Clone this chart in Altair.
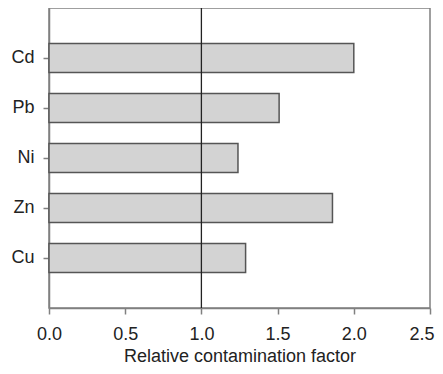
import altair as alt
import pandas as pd

elements = ["Cd", "Pb", "Ni", "Zn", "Cu"]
factors = [2.00, 1.51, 1.24, 1.86, 1.29]
x_ticks = [0.0, 0.5, 1.0, 1.5, 2.0, 2.5]
reference_value = [1.0]

df = pd.DataFrame({"element": elements, "factor": factors})
ref = pd.DataFrame({"ref": reference_value})

FONT = "Liberation Sans"

bars = alt.Chart(df).mark_bar(
    fill="#d3d3d3", stroke="#555555", strokeWidth=1.5
).encode(
    x=alt.X(
        "factor:Q",
        scale=alt.Scale(domain=[0, 2.5], nice=False, zero=True),
        axis=alt.Axis(
            values=x_ticks, format=".1f", title="Relative contamination factor",
            grid=False, tickSize=6, labelPadding=11, titlePadding=4,
            labelFlush=False,
            labelAlign={"condition": {"test": "datum.value >= 2.5", "value": "right"}, "value": "center"},
            labelOffset={"condition": {"test": "datum.value >= 2.5", "value": 4}, "value": 0},
        ),
    ),
    y=alt.Y(
        "element:N",
        sort=elements,
        scale=alt.Scale(paddingInner=0.42, paddingOuter=0.71),
        axis=alt.Axis(title=None, grid=False, tickSize=6, labelPadding=9),
    ),
)

rule = alt.Chart(ref).mark_rule(color="#222222", strokeWidth=1.3).encode(
    x="ref:Q"
)

chart = (
    alt.layer(bars, rule)
    .properties(
        width=381,
        height=300,
        autosize=alt.AutoSizeParams(type="none"),
        padding={"left": 41, "top": 0, "right": 5, "bottom": 58},
    )
    .configure_view(stroke="#808080", strokeWidth=1.5)
    .configure_axis(
        domainColor="#808080",
        domainWidth=1.5,
        tickColor="#808080",
        tickWidth=1.5,
        labelFont=FONT,
        titleFont=FONT,
        labelFontSize=18,
        titleFontSize=18,
        labelColor="#222222",
        titleColor="#222222",
        titleFontWeight="normal",
    )
)

chart.save("out.html", embed_options={"renderer": "svg", "actions": False})
